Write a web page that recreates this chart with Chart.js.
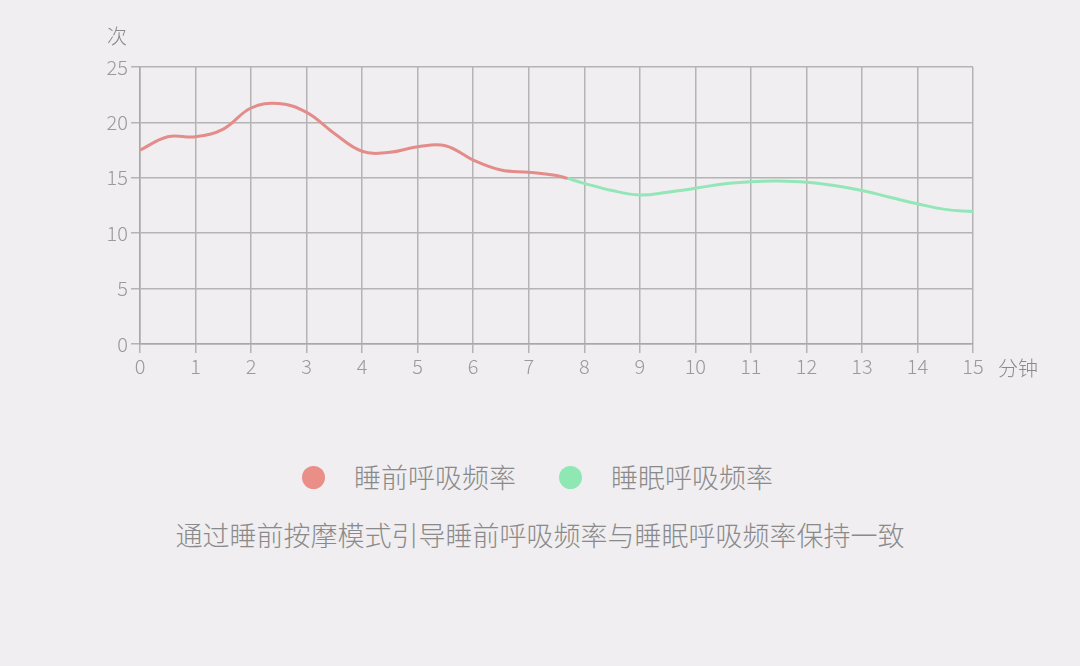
<!DOCTYPE html>
<html>
<head>
<meta charset="utf-8">
<script src="https://cdn.jsdelivr.net/npm/chart.js@4.4.1/dist/chart.umd.min.js"></script>
<style>
  html, body { margin: 0; padding: 0; background: #f0eef0; width: 1080px; height: 666px; overflow: hidden; }
  #wrap { position: absolute; left: 0; top: 0; width: 1080px; height: 420px; }
  .legend { position: absolute; top: 457px; left: 0; width: 1080px; height: 40px;
            font-family: "Noto Sans CJK SC", sans-serif; font-weight: 300; font-size: 27px; color: #8a8a8a; }
  .item { position: absolute; top: 0; height: 40px; line-height: 40px; white-space: nowrap; }
  .dot { position: absolute; width: 23px; height: 23px; border-radius: 50%; top: 9px; }
  .caption { position: absolute; top: 514px; left: 0; width: 1080px; text-align: center;
             font-family: "Noto Sans CJK SC", sans-serif; font-weight: 300; font-size: 27px; color: #8a8a8a; line-height: 42px; }
</style>
</head>
<body>
<div id="wrap"><canvas id="c" width="1080" height="420"></canvas></div>
<div class="legend" id="legend"></div>
<div class="caption" id="caption"></div>
<script>
// ---- data ----
const seriesNames = ["睡前呼吸频率", "睡眠呼吸频率"];
const minutesBefore = [0, 0.5, 1, 1.5, 2, 2.5, 3, 3.5, 4, 4.5, 5, 5.5, 6, 6.5, 7, 7.5, 7.7];
const valuesBefore  = [17.5, 18.7, 18.7, 19.4, 21.3, 21.7, 20.9, 19.0, 17.4, 17.3, 17.8, 17.9, 16.6, 15.7, 15.5, 15.2, 14.95];
const minutesSleep  = [7.7, 8, 8.5, 9, 9.5, 10, 10.5, 11, 11.5, 12, 12.5, 13, 13.5, 14, 14.5, 15];
const valuesSleep   = [14.95, 14.5, 13.85, 13.45, 13.7, 14.05, 14.45, 14.65, 14.7, 14.6, 14.3, 13.85, 13.25, 12.65, 12.15, 11.95];
const xTicks = [0,1,2,3,4,5,6,7,8,9,10,11,12,13,14,15];
const yTicks = [0,5,10,15,20,25];
const yUnit = "次";
const xUnit = "分钟";
const caption = "通过睡前按摩模式引导睡前呼吸频率与睡眠呼吸频率保持一致";
const colors = ["#e48c8a", "#92e6b8"];
const dotColors = ["#ea8f88", "#8fe8b3"];

const toXY = (xs, ys) => xs.map((x, i) => ({ x: x, y: ys[i] }));

const unitPlugin = {
  id: 'units',
  afterDraw(chart) {
    const ctx = chart.ctx;
    const xs = chart.scales.x, ys = chart.scales.y;
    ctx.save();
    ctx.fillStyle = '#8a8a8a';
    ctx.font = '300 20px "Noto Sans CJK SC", sans-serif';
    ctx.textBaseline = 'middle';
    ctx.textAlign = 'left';
    ctx.fillText(yUnit, 107, ys.getPixelForValue(25) - 31);
    ctx.fillText(xUnit, xs.getPixelForValue(15) + 25, xs.bottom - 52);
    ctx.restore();
  }
};

const tickFont = { family: '"Noto Sans CJK SC", sans-serif', size: 20, weight: 300 };

new Chart(document.getElementById('c'), {
  type: 'line',
  data: {
    datasets: [
      { label: seriesNames[0], data: toXY(minutesBefore, valuesBefore), borderColor: colors[0],
        borderWidth: 3, pointRadius: 0, tension: 0.4, fill: false },
      { label: seriesNames[1], data: toXY(minutesSleep, valuesSleep), borderColor: colors[1],
        borderWidth: 3, pointRadius: 0, tension: 0.4, fill: false }
    ]
  },
  options: {
    responsive: false,
    animation: false,
    layout: { padding: { top: 67, right: 107, left: 0, bottom: 0 } },
    plugins: { legend: { display: false }, tooltip: { enabled: false } },
    scales: {
      x: {
        type: 'linear', min: 0, max: 15,
        afterBuildTicks: s => { s.ticks = xTicks.map(v => ({ value: v })); },
        afterFit: s => { s.height = 76; },
        grid: { color: '#b4b4b4', lineWidth: 1.5, tickLength: 9, drawTicks: true },
        border: { color: '#a8a8a8', width: 1.5 },
        ticks: { color: '#9a9a9a', font: tickFont, padding: 1, maxRotation: 0, autoSkip: false }
      },
      y: {
        min: 0, max: 25,
        afterBuildTicks: s => { s.ticks = yTicks.map(v => ({ value: v })); },
        afterFit: s => { s.width = 140; },
        grid: { color: '#b4b4b4', lineWidth: 1.5, tickLength: 9 },
        border: { color: '#a8a8a8', width: 1.5 },
        ticks: { color: '#9a9a9a', font: tickFont, padding: 3 }
      }
    }
  },
  plugins: [unitPlugin]
});

// legend + caption (HTML)
const legend = document.getElementById('legend');
const legendPos = [{ dot: 302, text: 354 }, { dot: 559, text: 611 }];
seriesNames.forEach((name, i) => {
  const d = document.createElement('div');
  d.className = 'dot';
  d.style.left = legendPos[i].dot + 'px';
  d.style.background = dotColors[i];
  legend.appendChild(d);
  const t = document.createElement('div');
  t.className = 'item';
  t.style.left = legendPos[i].text + 'px';
  t.textContent = name;
  legend.appendChild(t);
});
document.getElementById('caption').textContent = caption;
</script>
</body>
</html>
